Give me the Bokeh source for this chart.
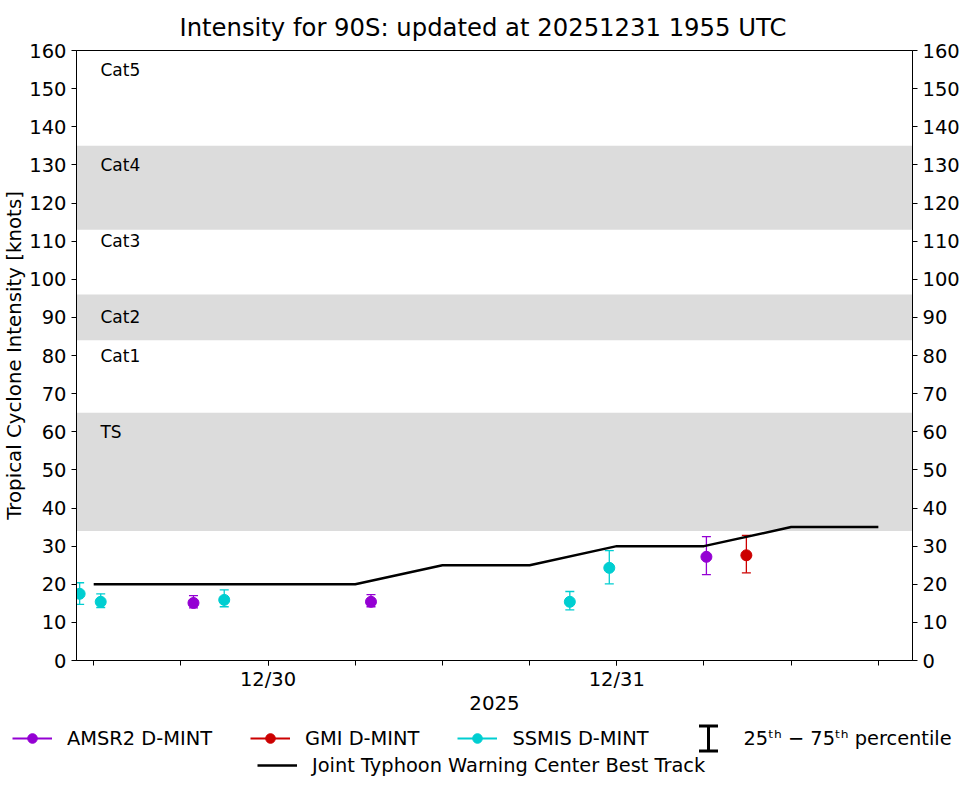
import pandas as pd
from bokeh.plotting import figure
from bokeh.models import (ColumnDataSource, Range1d, FixedTicker, SingleIntervalTicker,
                          LinearAxis, DatetimeTickFormatter, BoxAnnotation, Whisker,
                          TeeHead, Legend, LegendItem, Label)
from bokeh.core.properties import value
from bokeh.embed import file_html
from bokeh.resources import INLINE

FONT = "DejaVu Sans"
NAN = float("nan")

# ---------------- data ----------------
title_text = "Intensity for 90S: updated at 20251231 1955 UTC"

bt_times = ["2025-12-29 12:00", "2025-12-29 18:00", "2025-12-30 00:00", "2025-12-30 06:00",
            "2025-12-30 12:00", "2025-12-30 18:00", "2025-12-31 00:00", "2025-12-31 06:00",
            "2025-12-31 12:00", "2025-12-31 18:00"]
bt_vmax = [20, 20, 20, 20, 25, 25, 30, 30, 35, 35]

amsr2_times = ["2025-12-29 18:52", "2025-12-30 07:05", "2025-12-31 06:10"]
amsr2_vmax = [15.1, 15.4, 27.2]
amsr2_p25 = [13.8, 14.1, 22.5]
amsr2_p75 = [17.0, 17.3, 32.5]

gmi_times = ["2025-12-31 08:55"]
gmi_vmax = [27.6]
gmi_p25 = [23.0]
gmi_p75 = [32.8]

ssmis_times = ["2025-12-29 11:02", "2025-12-29 12:29", "2025-12-29 20:59",
               "2025-12-30 20:46", "2025-12-30 23:29"]
ssmis_vmax = [17.5, 15.4, 15.9, 15.4, 24.3]
ssmis_p25 = [14.7, 13.9, 14.1, 13.3, 20.1]
ssmis_p75 = [20.4, 17.5, 18.5, 18.1, 28.8]

band_bottoms = [34, 84, 113]
band_tops = [65, 96, 135]

cat_labels = ["TS", "Cat1", "Cat2", "Cat3", "Cat4", "Cat5"]
cat_label_values = [60, 80, 90, 110, 130, 155]
cat_label_time = "2025-12-29 12:28"

x_major_ticks = ["2025-12-30 00:00", "2025-12-31 00:00"]
x_minor_ticks = bt_times
x_start = "2025-12-29 10:49"
x_end = "2025-12-31 20:21"
x_axis_label = "2025"
y_axis_label = "Tropical Cyclone Intensity [knots]"

series = [
    ("AMSR2 D-MINT", "#9400d3", amsr2_times, amsr2_vmax, amsr2_p25, amsr2_p75),
    ("GMI D-MINT", "#cc0000", gmi_times, gmi_vmax, gmi_p25, gmi_p75),
    ("SSMIS D-MINT", "#00ced1", ssmis_times, ssmis_vmax, ssmis_p25, ssmis_p75),
]
bt_label = "Joint Typhoon Warning Center Best Track"
pct_label = "25\u1d57\u02b0 \u2212 75\u1d57\u02b0 percentile"

W = 962
H_MAIN = 720
H_LEG = 65


def ms(t):
    return pd.Timestamp(t).value / 1e6


# ---------------- main figure ----------------
p = figure(width=W, height=H_MAIN, x_axis_type="datetime",
           x_range=Range1d(ms(x_start), ms(x_end)), y_range=Range1d(0, 160),
           output_backend="svg", toolbar_location=None,
           min_border_left=75, min_border_right=49, min_border_top=50,
           min_border_bottom=H_MAIN - 660)
p.background_fill_color = "white"
p.border_fill_color = "white"
p.outline_line_color = "black"
p.outline_line_width = 1
p.xgrid.visible = False
p.ygrid.visible = False

p.title.text = title_text
p.title.text_font = FONT
p.title.text_font_size = "24.3px"
p.title.text_font_style = "normal"
p.title.text_color = "black"
p.title.align = "left"
p.title.offset = 103
p.title.standoff = 18

for b, t in zip(band_bottoms, band_tops):
    p.add_layout(BoxAnnotation(bottom=b, top=t, fill_color="#dcdcdc", fill_alpha=1.0,
                               line_color=None, level="underlay"))

p.text(x=[pd.Timestamp(cat_label_time)] * len(cat_labels), y=cat_label_values, text=cat_labels,
       text_font=value(FONT), text_font_size="17px", text_baseline="middle",
       text_align="left", text_color="black")

bt_src = ColumnDataSource(dict(t=pd.to_datetime(bt_times), v=bt_vmax))
p.line(x="t", y="v", source=bt_src, line_color="black", line_width=2.5)

for name, color, times, vmax, p25, p75 in series:
    src = ColumnDataSource(dict(t=pd.to_datetime(times), v=vmax, lo=p25, hi=p75))
    p.add_layout(Whisker(source=src, base="t", lower="lo", upper="hi", dimension="height",
                         line_color=color, line_width=1.3,
                         upper_head=TeeHead(size=9, line_color=color, line_width=1.3),
                         lower_head=TeeHead(size=9, line_color=color, line_width=1.3)))
    p.scatter(x="t", y="v", source=src, size=11, fill_color=color, line_color=color)

# axes
xa = p.xaxis[0]
xa.ticker = FixedTicker(ticks=[ms(t) for t in x_major_ticks],
                        minor_ticks=[ms(t) for t in x_minor_ticks])
xa.formatter = DatetimeTickFormatter(days="%m/%d", months="%m/%d", hours="%m/%d",
                                     hourmin="%m/%d", minutes="%m/%d", minsec="%m/%d",
                                     seconds="%m/%d", years="%m/%d")
xa.axis_label = x_axis_label

ya = p.yaxis[0]
ya.ticker = SingleIntervalTicker(interval=10, num_minor_ticks=0)
ya.axis_label = y_axis_label
ra = LinearAxis(ticker=SingleIntervalTicker(interval=10, num_minor_ticks=0))
p.add_layout(ra, "right")

for ax in [xa, ya, ra]:
    ax.axis_line_color = "black"
    ax.axis_line_width = 1
    ax.major_tick_line_color = "black"
    ax.minor_tick_line_color = "black"
    ax.major_tick_out = 5
    ax.major_tick_in = 0
    ax.minor_tick_out = 5
    ax.minor_tick_in = 0
    ax.major_label_text_font = FONT
    ax.major_label_text_font_size = "19.5px"
    ax.major_label_text_color = "black"
    ax.axis_label_text_font = FONT
    ax.axis_label_text_font_size = "19.8px"
    ax.axis_label_text_font_style = "normal"
    ax.axis_label_text_color = "black"
    ax.major_label_standoff = 5
xa.major_label_standoff = 2
xa.axis_label_standoff = 2
ya.axis_label_standoff = 0

# ---------------- legend strip (page pixel coordinates) ----------------
top_px = H_MAIN
bot_px = H_MAIN + H_LEG
q = figure(width=W, height=H_LEG, x_range=Range1d(0, W), y_range=Range1d(bot_px, top_px),
           output_backend="svg", toolbar_location=None,
           x_axis_location=None, y_axis_location=None,
           min_border_left=0, min_border_right=0, min_border_top=0, min_border_bottom=0)
q.outline_line_color = None
q.xgrid.visible = False
q.ygrid.visible = False
q.background_fill_color = "white"
q.border_fill_color = "white"

items = []
for name, color, *_ in series:
    lr = q.line(x=[NAN], y=[NAN], line_color=color, line_width=2)
    sr = q.scatter(x=[NAN], y=[NAN], fill_color=color, line_color=color)
    items.append(LegendItem(label=name, renderers=[lr, sr]))
bt_leg_r = q.line(x=[NAN], y=[NAN], line_color="black", line_width=2.5)

row1_center, row2_center, item_h = 738, 765, 24
leg_kw = dict(orientation="horizontal", glyph_width=40, glyph_height=item_h,
              label_height=item_h, label_standoff=15, spacing=38, padding=0, margin=0,
              border_line_color=None, background_fill_alpha=0, label_text_font=FONT,
              label_text_font_size="19.4px", label_text_color="black")
leg1 = Legend(items=items, location=(12, bot_px - (row1_center + item_h / 2)), **leg_kw)
leg2 = Legend(items=[LegendItem(label=bt_label, renderers=[bt_leg_r])],
              location=(257, bot_px - (row2_center + item_h / 2)), **leg_kw)
q.add_layout(leg1, "center")
q.add_layout(leg2, "center")

pct_x = 708
pct_src = ColumnDataSource(dict(base=[pct_x], lower=[row1_center - 12.5],
                                upper=[row1_center + 12.5]))
q.add_layout(Whisker(source=pct_src, base="base", lower="lower", upper="upper",
                     dimension="height", line_color="black", line_width=3,
                     upper_head=TeeHead(size=19, line_color="black", line_width=3),
                     lower_head=TeeHead(size=19, line_color="black", line_width=3)))
q.add_layout(Label(x=743, y=row1_center, text=pct_label, text_baseline="middle",
                   text_font=FONT, text_font_size="19.4px", text_color="black"))

open("out.html", "w").write(file_html([p, q], INLINE))
